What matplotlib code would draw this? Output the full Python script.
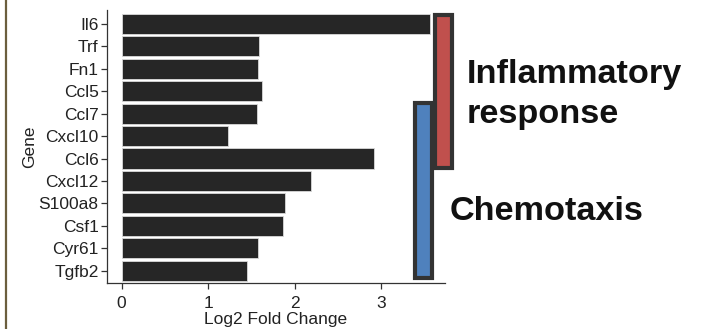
import matplotlib
matplotlib.use("Agg")
import matplotlib.pyplot as plt
from matplotlib.patches import Rectangle

genes = ["Il6", "Trf", "Fn1", "Ccl5", "Ccl7", "Cxcl10", "Ccl6",
         "Cxcl12", "S100a8", "Csf1", "Cyr61", "Tgfb2"]
log2fc = [3.56, 1.59, 1.58, 1.62, 1.56, 1.23, 2.92, 2.19, 1.89, 1.87, 1.58, 1.45]
ticks = [0, 1, 2, 3]

# gene groups (first, last gene in each)
inflam = ("Il6", "Ccl6")
chemo = ("Ccl7", "Tgfb2")

plt.rcParams["font.family"] = ["Liberation Sans", "DejaVu Sans"]

fig = plt.figure(figsize=(7.02, 3.29), dpi=100)
ax = fig.add_axes([0.1524, 0.1398, 0.4816, 0.8298])

y = list(range(len(genes)))
ax.barh(y, log2fc, height=0.9, color="#262626", edgecolor="#d9d9d9", lw=0.6)
ax.set_ylim(11.55, -0.62)
ax.set_xlim(-0.17, 3.74)
ax.set_yticks(y)
ax.set_yticklabels(genes, fontsize=12.5, color="#222222")
ax.set_xticks(ticks)
ax.set_xticklabels([str(t) for t in ticks], fontsize=12.5, color="#222222")
ax.tick_params(length=4, width=0.9, color="#333333", pad=2)
ax.tick_params(axis="x", pad=5)
for s in ["top", "right"]:
    ax.spines[s].set_visible(False)
for s in ["left", "bottom"]:
    ax.spines[s].set_color("#333333")
    ax.spines[s].set_linewidth(0.9)
ax.set_xlabel("Log2 Fold Change", fontsize=12.5, color="#222222", labelpad=1)
ax.set_ylabel("Gene", fontsize=12.5, color="#222222", labelpad=1)

# group boxes
i0, i1 = genes.index(inflam[0]), genes.index(inflam[1])
ax.add_patch(Rectangle((3.62, i0 - 0.4), 0.2, i1 - i0 + 0.83, facecolor="#c0504d",
                       edgecolor="#333333", lw=3, clip_on=False, zorder=3))
j0, j1 = genes.index(chemo[0]), genes.index(chemo[1])
ax.add_patch(Rectangle((3.39, j0 - 0.48), 0.2, j1 - j0 + 0.8, facecolor="#4f81bd",
                       edgecolor="#333333", lw=3, clip_on=False, zorder=2))

fig.text(0.665, 0.749, "Inflammatory", fontsize=24.7, fontweight="bold",
         color="#111111", ha="left", va="baseline")
fig.text(0.665, 0.627, "response", fontsize=24.7, fontweight="bold",
         color="#111111", ha="left", va="baseline")
fig.text(0.641, 0.331, "Chemotaxis", fontsize=24.7, fontweight="bold",
         color="#111111", ha="left", va="baseline")

# slide border on the left
fig.add_artist(plt.Line2D([0.0085, 0.0085], [0, 1], color="#6b5e3e", lw=1.6))

fig.savefig("out.png", dpi=100)
